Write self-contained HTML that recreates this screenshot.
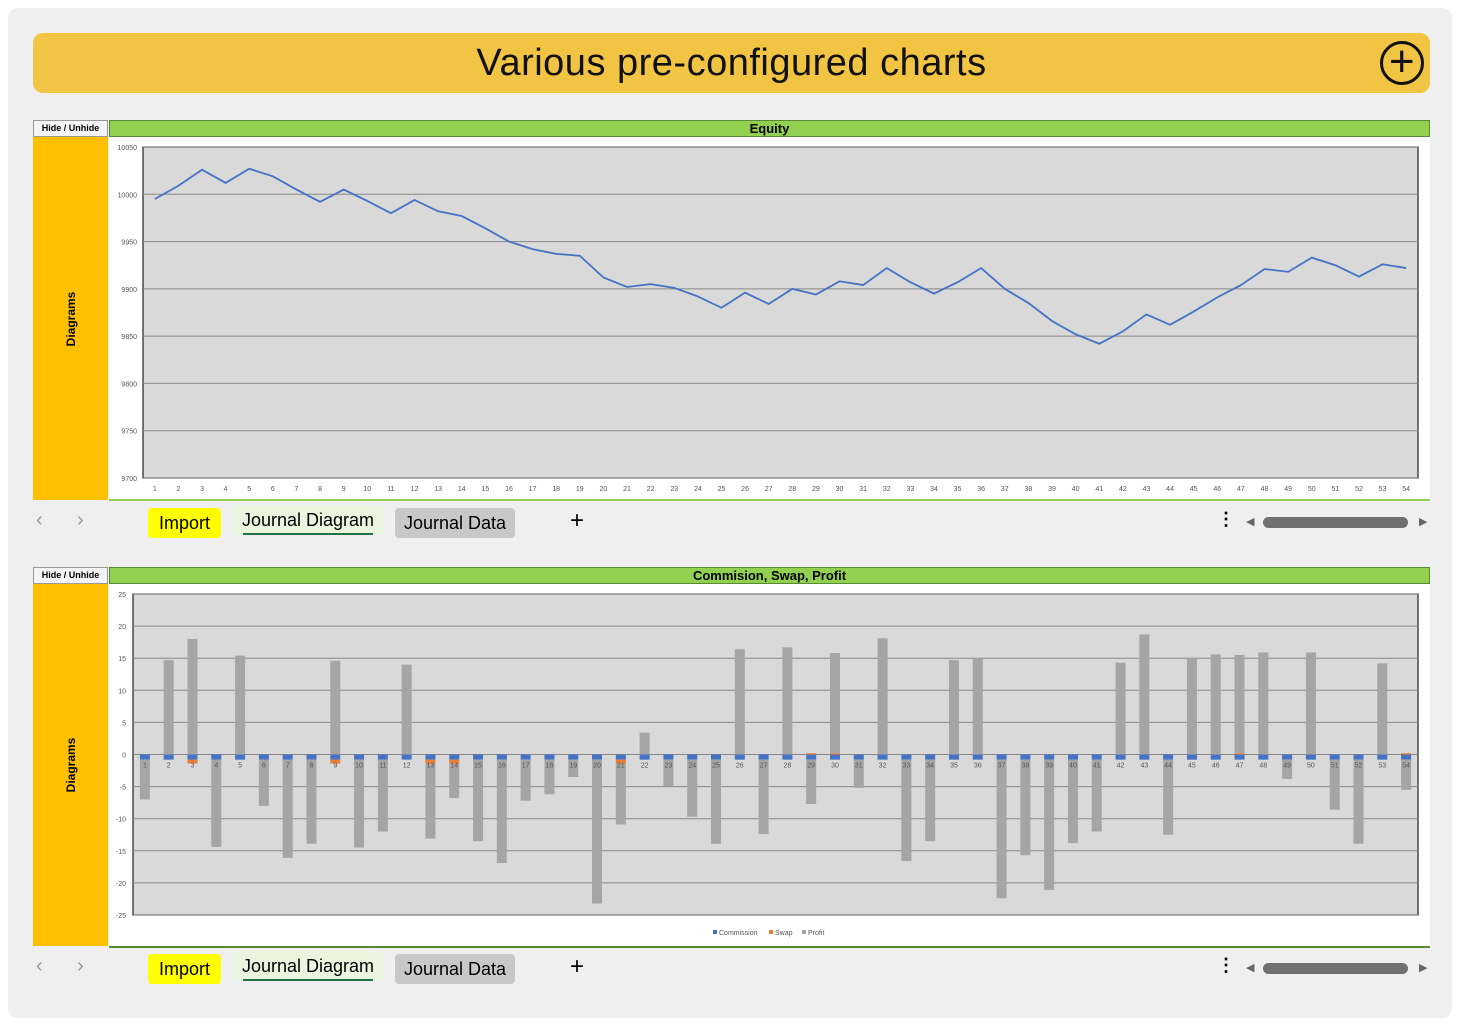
<!DOCTYPE html>
<html><head><meta charset="utf-8">
<style>
*{margin:0;padding:0;box-sizing:border-box}
body{width:1460px;height:1024px;background:#fff;font-family:"Liberation Sans",sans-serif;position:relative;overflow:hidden}
.abs{position:absolute}
.panel{left:8px;top:8px;width:1444px;height:1010px;background:#efefef;border-radius:10px}
.header{left:33px;top:33px;width:1397px;height:60px;background:#f2c443;border-radius:10px;text-align:center;font-size:38px;line-height:60px;color:#111;letter-spacing:0.5px}
.plus{right:6px;top:8px;width:44px;height:44px;border:3px solid #111;border-radius:50%;font-size:44px;line-height:36px;text-align:center}
.hide{width:75px;height:17px;background:#f4f4f4;border:1px solid #999;font-size:9px;font-weight:bold;text-align:center;line-height:15px}
.gbar{height:17px;background:#92d050;border:1px solid #5a8a30;font-size:13px;font-weight:bold;text-align:center;line-height:15px}
.side{width:75px;background:#ffc000}
.vt{position:absolute;left:50%;top:50%;transform:translate(-50%,-50%) rotate(-90deg);font-size:12px;font-weight:bold;white-space:nowrap}
.tab{height:30px;font-size:18px;line-height:30px;text-align:center;border-radius:4px}
</style></head><body>
<div class="abs panel"></div>
<div class="abs header">Various pre-configured charts
<div class="abs plus">+</div></div>

<!-- section 1 -->
<div class="abs hide" style="left:33px;top:120px">Hide / Unhide</div>
<div class="abs gbar" style="left:109px;top:120px;width:1321px">Equity</div>
<div class="abs side" style="left:33px;top:137px;height:363px"><div class="vt">Diagrams</div></div>
<div class="abs" style="left:109px;top:137px;width:1321px;height:364px;background:#fff;border-bottom:2px solid #92d050">
<svg id="eq" width="1321" height="362"></svg></div>

<!-- tabbar 1 -->
<div class="abs" style="left:33px;top:505px;width:1397px;height:36px">
<div class="abs" style="left:3px;top:4px;font-size:20px;color:#999">‹</div>
<div class="abs" style="left:44px;top:4px;font-size:20px;color:#999">›</div>
<div class="abs tab" style="left:115px;top:3px;width:73px;background:#ffff00">Import</div>
<div class="abs tab" style="left:200px;top:0;width:150px;background:#eaf5e0">Journal Diagram<div class="abs" style="left:10px;right:10px;top:28px;height:2px;background:#217346"></div></div>
<div class="abs tab" style="left:362px;top:3px;width:120px;background:#c8c8c8">Journal Data</div>
<div class="abs" style="left:537px;top:2px;font-size:24px">+</div>
<div class="abs" style="left:1184px;top:4px;font-size:18px;font-weight:bold">⋮</div>
<div class="abs" style="left:1213px;top:10px;font-size:11px;color:#666">◀</div>
<div class="abs" style="left:1230px;top:12px;width:145px;height:11px;background:#707070;border-radius:6px"></div>
<div class="abs" style="left:1386px;top:10px;font-size:11px;color:#666">▶</div>
</div>

<!-- section 2 -->
<div class="abs hide" style="left:33px;top:567px">Hide / Unhide</div>
<div class="abs gbar" style="left:109px;top:567px;width:1321px">Commision, Swap, Profit</div>
<div class="abs side" style="left:33px;top:584px;height:362px"><div class="vt">Diagrams</div></div>
<div class="abs" style="left:109px;top:584px;width:1321px;height:364px;background:#fff;border-bottom:2px solid #5a8a30">
<svg id="csp" width="1321" height="362"></svg></div>

<div class="abs" style="left:33px;top:951px;width:1397px;height:36px">
<div class="abs" style="left:3px;top:4px;font-size:20px;color:#999">‹</div>
<div class="abs" style="left:44px;top:4px;font-size:20px;color:#999">›</div>
<div class="abs tab" style="left:115px;top:3px;width:73px;background:#ffff00">Import</div>
<div class="abs tab" style="left:200px;top:0;width:150px;background:#eaf5e0">Journal Diagram<div class="abs" style="left:10px;right:10px;top:28px;height:2px;background:#217346"></div></div>
<div class="abs tab" style="left:362px;top:3px;width:120px;background:#c8c8c8">Journal Data</div>
<div class="abs" style="left:537px;top:2px;font-size:24px">+</div>
<div class="abs" style="left:1184px;top:4px;font-size:18px;font-weight:bold">⋮</div>
<div class="abs" style="left:1213px;top:10px;font-size:11px;color:#666">◀</div>
<div class="abs" style="left:1230px;top:12px;width:145px;height:11px;background:#707070;border-radius:6px"></div>
<div class="abs" style="left:1386px;top:10px;font-size:11px;color:#666">▶</div>
</div>

<script>
const equity=[9995,10009,10026,10012,10027,10019,10005,9992,10005,9993,9980,9994,9982,9977,9964,9950,9942,9937,9935,9912,9902,9905,9901,9892,9880,9896,9884,9900,9894,9908,9904,9922,9907,9895,9907,9922,9900,9885,9866,9852,9842,9855,9873,9862,9876,9891,9904,9921,9918,9933,9925,9913,9926,9922];
const eqTicks=[9700,9750,9800,9850,9900,9950,10000,10050];
const profit=[-6.2,14.7,18.0,-13.6,15.4,-7.2,-15.3,-13.1,14.6,-13.7,-11.2,14.0,-11.7,-5.4,-12.7,-16.1,-6.4,-5.4,-2.7,-22.4,-9.5,3.4,-4.1,-8.9,-13.1,16.4,-11.6,16.7,-6.9,15.6,-4.4,18.1,-15.8,-12.7,14.7,15.1,-21.6,-14.9,-20.3,-13.0,-11.2,14.3,18.7,-11.7,15.1,15.6,15.3,15.9,-3.0,15.9,-7.8,-13.1,14.2,-4.7];
const commission=[-0.8,-0.8,-0.8,-0.8,-0.8,-0.8,-0.8,-0.8,-0.8,-0.8,-0.8,-0.8,-0.8,-0.8,-0.8,-0.8,-0.8,-0.8,-0.8,-0.8,-0.8,-0.8,-0.8,-0.8,-0.8,-0.8,-0.8,-0.8,-0.8,-0.8,-0.8,-0.8,-0.8,-0.8,-0.8,-0.8,-0.8,-0.8,-0.8,-0.8,-0.8,-0.8,-0.8,-0.8,-0.8,-0.8,-0.8,-0.8,-0.8,-0.8,-0.8,-0.8,-0.8,-0.8];
const swap=[0,0,-0.6,0,0,0,0,0,-0.6,0,0,0,-0.6,-0.6,0,0,0,0,0,0,-0.6,0,0,0,0,0,0,0,0.2,0.2,0,0,0,0,0,0,0,0,0,0,0,0,0,0,0,0,0.2,0,0,0,0,0,0,0.2];
const cspTicks=[-25,-20,-15,-10,-5,0,5,10,15,20,25];
const NS='http://www.w3.org/2000/svg';
function mk(p,t,a){const e=document.createElementNS(NS,t);for(const k in a)e.setAttribute(k,a[k]);p.appendChild(e);return e;}

// Equity chart (svg offset: left 109, top 137)
(function(){
const s=document.getElementById('eq');
const L=34,R=1309,T=10,B=341;
const y=v=>B-(v-9700)/(10050-9700)*(B-T);
const n=equity.length,cw=(R-L)/n;
const x=i=>L+cw*(i+0.5);
const bg=mk(s,'rect',{x:L,y:T,width:R-L,height:B-T,fill:'#d9d9d9',stroke:'#222','stroke-width':1.2});


eqTicks.forEach(v=>{
 const g=mk(s,'line',{x1:L,x2:R,y1:y(v),y2:y(v),stroke:'#888','stroke-width':1});
 
 
 const t=mk(s,'text',{x:L-6,y:y(v)+3,'font-size':7,fill:'#555','text-anchor':'end'});
 t.textContent=v;
 
 
});
const ln=mk(s,'polyline',{points:equity.map((v,i)=>x(i)+','+y(v)).join(' '),fill:'none',stroke:'#4472c4','stroke-width':1.8});


equity.forEach((v,i)=>{
 const t=mk(s,'text',{x:x(i),y:B+13,'font-size':7,fill:'#555','text-anchor':'middle'});
 t.textContent=i+1;
 
 
});
})();

// CSP chart (offset left 109, top 584)
(function(){
const s=document.getElementById('csp');
const L=24,R=1309,T=10,B=331;
const y=v=>T+(25-v)/50*(B-T);
const n=profit.length,cw=(R-L)/n,bw=10;
const x=i=>L+cw*(i+0.5);
const bg=mk(s,'rect',{x:L,y:T,width:R-L,height:B-T,fill:'#d9d9d9',stroke:'#222','stroke-width':1.2});


cspTicks.forEach(v=>{
 const g=mk(s,'line',{x1:L,x2:R,y1:y(v),y2:y(v),stroke:'#888','stroke-width':1});
 
 
 const t=mk(s,'text',{x:L-7,y:y(v)+3,'font-size':7,fill:'#555','text-anchor':'end'});
 t.textContent=v;
 
 
});
function bar(i,a,b,c,name){
 const r=mk(s,'rect',{x:x(i)-bw/2,y:Math.min(y(a),y(b)),width:bw,height:Math.abs(y(a)-y(b)),fill:c});
 
 
}
for(let i=0;i<n;i++){
 let pos=0,neg=0;
 const c=commission[i];
 if(c<0){bar(i,neg,neg+c,'#4472c4','commission-bar');neg+=c;}else{bar(i,pos,pos+c,'#4472c4','commission-bar');pos+=c;}
 const w=swap[i];
 if(w<0){bar(i,neg,neg+w,'#ed7d31','swap-bar');neg+=w;}else if(w>0){bar(i,pos,pos+w,'#ed7d31','swap-bar');pos+=w;}
 const p=profit[i];
 if(p<0){bar(i,neg,neg+p,'#a5a5a5','profit-bar');}else{bar(i,pos,pos+p,'#a5a5a5','profit-bar');}
 const t=mk(s,'text',{x:x(i),y:y(0)+13,'font-size':7,fill:'#555','text-anchor':'middle'});
 t.textContent=i+1;
 
 
}
const lg=[['Commission','#4472c4',604],['Swap','#ed7d31',660],['Profit','#a5a5a5',693]];
lg.forEach(l=>{
 const r=mk(s,'rect',{x:l[2],y:346,width:4,height:4,fill:l[1]});
 
 
 const t=mk(s,'text',{x:l[2]+6,y:351,'font-size':7,fill:'#555'});
 t.textContent=l[0];
 
 
});
})();
</script>
</body></html>
